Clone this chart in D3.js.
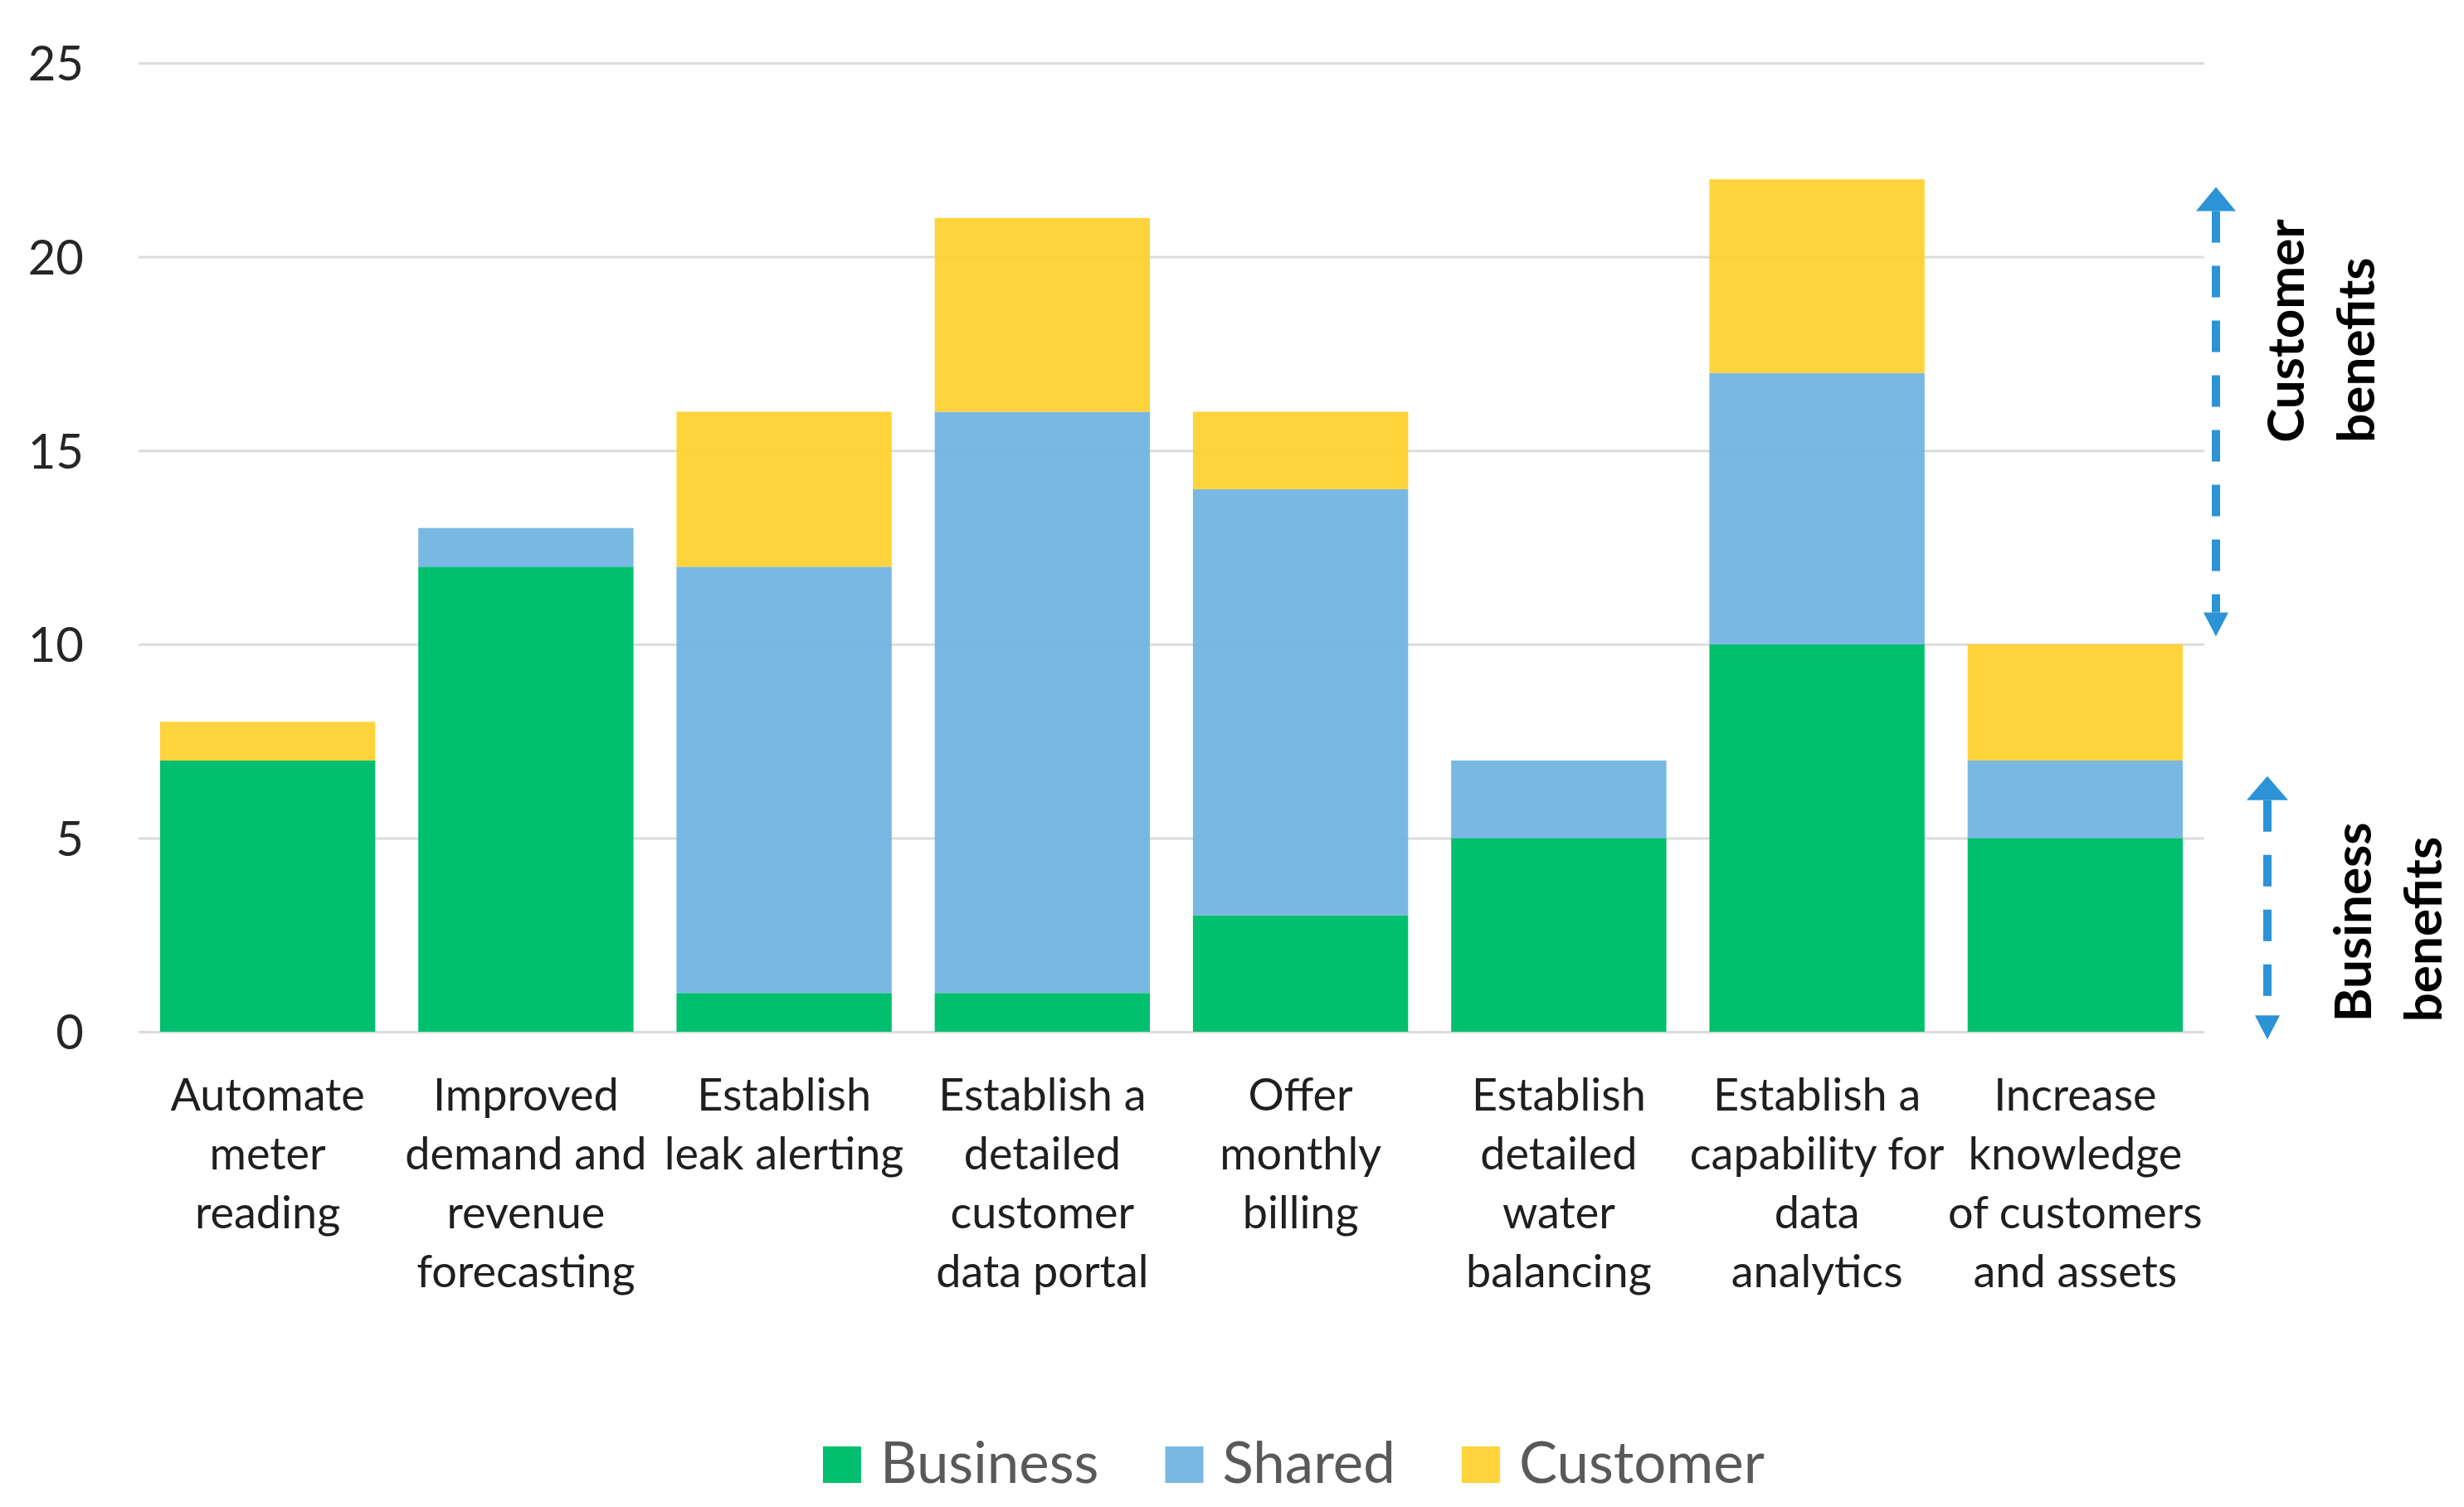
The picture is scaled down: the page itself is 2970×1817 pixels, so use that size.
<!DOCTYPE html>
<html>
<head>
<meta charset="utf-8">
<script src="https://cdn.jsdelivr.net/npm/d3@7"></script>
<style>
  html, body { margin: 0; padding: 0; background: #fff; }
  svg { display: block; font-family: Lato, "Open Sans", sans-serif; }
</style>
</head>
<body>
<svg id="chart"></svg>
<script>
// Chart data
const categories = [
    ["Automate", "meter", "reading"],
    ["Improved", "demand and", "revenue", "forecasting"],
    ["Establish", "leak alerting"],
    ["Establish a", "detailed", "customer", "data portal"],
    ["Offer", "monthly", "billing"],
    ["Establish", "detailed", "water", "balancing"],
    ["Establish a", "capability for", "data", "analytics"],
    ["Increase", "knowledge", "of customers", "and assets"]
];
const business = [7, 12, 1, 1, 3, 5, 10, 5];
const shared = [0, 1, 11, 15, 11, 2, 7, 2];
const customer = [1, 0, 4, 5, 2, 0, 5, 3];
const seriesNames = ["Business", "Shared", "Customer"];
const seriesColors = ["#00bf6e", "#6db2e0", "#ffcf2a"];
const seriesOpacity = [1, 0.92, 0.92];
const yTicks = [0, 5, 10, 15, 20, 25];

// Side annotations (value ranges on the y scale, label start value)
const customerNote = { label: ["Customer", "benefits"], from: 10.2, to: 21.8, textStart: 15.2 };
const businessNote = { label: ["Business", "benefits"], from: -0.2, to: 6.6, textStart: 0.25 };

const width = 2970, height = 1817;
const margin = { top: 76, right: 313, bottom: 573, left: 167 };
const arrowColor = "#2b93d6";
const fontFamily = "Lato, 'Open Sans', sans-serif";

const svg = d3.select("#chart").attr("width", width).attr("height", height);
svg.append("rect").attr("width", width).attr("height", height).attr("fill", "#fff");

const rows = categories.map((c, i) => ({
    key: i,
    Business: business[i],
    Shared: shared[i],
    Customer: customer[i]
}));

const x = d3.scaleBand()
    .domain(d3.range(categories.length))
    .range([margin.left, width - margin.right])
    .paddingInner(0.2 / 1.2)
    .paddingOuter(0.1 / 1.2);

const y = d3.scaleLinear()
    .domain([0, 25])
    .range([height - margin.bottom, margin.top]);

const color = d3.scaleOrdinal().domain(seriesNames).range(seriesColors);
const opacity = d3.scaleOrdinal().domain(seriesNames).range(seriesOpacity);

// y axis + gridlines
const yAxis = svg.append("g")
    .attr("transform", `translate(${margin.left},0)`)
    .call(d3.axisLeft(y).tickValues(yTicks).tickSize(-(width - margin.left - margin.right)).tickPadding(66))
    .attr("font-family", fontFamily);
yAxis.select(".domain").remove();
yAxis.selectAll(".tick line").attr("stroke", "#dcdcdc").attr("stroke-width", 3);
yAxis.selectAll(".tick text")
    .attr("fill", "#262626")
    .style("font-size", "58px")
    .attr("dy", "0.36em");

// stacked bars
const stacked = d3.stack().keys(seriesNames)(rows);

svg.append("g").selectAll("g").data(stacked).enter().append("g")
    .attr("fill", d => color(d.key))
    .attr("fill-opacity", d => opacity(d.key))
    .selectAll("rect").data(d => d).enter().append("rect")
    .attr("x", d => x(d.data.key))
    .attr("y", d => y(d[1]))
    .attr("width", x.bandwidth())
    .attr("height", d => y(d[0]) - y(d[1]));

// x axis labels (multi-line)
const xAxis = svg.append("g")
    .attr("transform", `translate(0,${y(0)})`)
    .call(d3.axisBottom(x).tickSize(0).tickFormat(""))
    .attr("font-family", fontFamily);
xAxis.select(".domain").remove();
xAxis.selectAll(".tick text").remove();
xAxis.selectAll(".tick").append("text")
    .attr("fill", "#1f1f1f")
    .attr("text-anchor", "middle")
    .style("font-size", "54px")
    .attr("y", 95)
    .each(function (d) {
        const t = d3.select(this);
        categories[d].forEach((line, j) => {
            t.append("tspan").attr("x", 0).attr("dy", j === 0 ? 0 : 71).text(line);
        });
    });

// legend
const legend = svg.append("g").attr("transform", "translate(0,1788)");
let lx = 992;
seriesNames.forEach((name) => {
    legend.append("rect")
        .attr("x", lx).attr("y", -44)
        .attr("width", 46).attr("height", 44)
        .attr("fill", color(name)).attr("fill-opacity", opacity(name));
    const txt = legend.append("text")
        .attr("x", lx + 69).attr("y", 0)
        .attr("fill", "#595959")
        .style("font-size", "69px")
        .text(name);
    lx += 69 + txt.node().getComputedTextLength() + 80;
});

// side annotations: dashed double arrows with rotated labels
function drawNote(note, ax, bigHead, textX) {
    const top = y(note.to), bottom = y(note.from);
    const g = svg.append("g");
    g.append("line")
        .attr("x1", ax).attr("x2", ax)
        .attr("y1", top + 29).attr("y2", bottom - 29)
        .attr("stroke", arrowColor).attr("stroke-width", 10)
        .attr("stroke-dasharray", "38 28");
    g.append("path")
        .attr("d", `M${ax},${top} L${ax + bigHead},${top + 29} L${ax - bigHead},${top + 29} Z`)
        .attr("fill", arrowColor);
    g.append("path")
        .attr("d", `M${ax},${bottom} L${ax + 15},${bottom - 29} L${ax - 15},${bottom - 29} Z`)
        .attr("fill", arrowColor);
    note.label.forEach((line, j) => {
        g.append("text")
            .attr("transform", `translate(${textX + j * 85},${y(note.textStart)}) rotate(-90)`)
            .attr("fill", "#000")
            .style("font-size", "62px")
            .style("font-weight", "bold")
            .text(line);
    });
}

const plotRight = width - margin.right;
drawNote(customerNote, plotRight + 14, 24, plotRight + 120);
drawNote(businessNote, plotRight + 76, 25, plotRight + 201);
</script>
</body>
</html>
